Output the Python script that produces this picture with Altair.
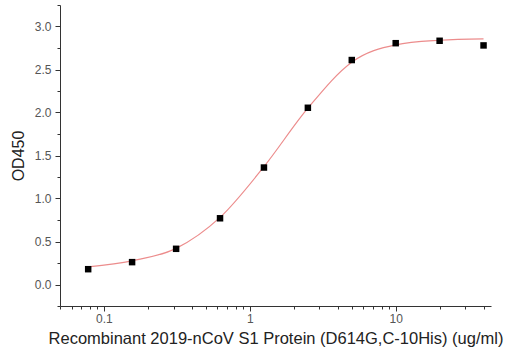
import altair as alt
import pandas as pd

# Measured points
conc = [0.078, 0.156, 0.3125, 0.625, 1.25, 2.5, 5, 10, 20, 40]
od = [0.178, 0.26, 0.415, 0.77, 1.36, 2.055, 2.61, 2.806, 2.834, 2.78]

# Fitted curve
curve_x = [0.078, 0.156, 0.3125, 0.625, 1.25, 2.5, 5, 10, 20, 40]
curve_y = [0.205, 0.275, 0.42, 0.78, 1.37, 2.05, 2.585, 2.787, 2.84, 2.857]

x_major = [0.1, 1, 10]
x_minor = [0.05, 0.06, 0.07, 0.08, 0.09, 0.2, 0.3, 0.4, 0.5, 0.6, 0.7, 0.8, 0.9,
           2, 3, 4, 5, 6, 7, 8, 9, 20, 30, 40]
y_major = [0.0, 0.5, 1.0, 1.5, 2.0, 2.5, 3.0]
y_minor = [-0.25, 0.25, 0.75, 1.25, 1.75, 2.25, 2.75, 3.25]

x_title = "Recombinant 2019-nCoV S1 Protein (D614G,C-10His) (ug/ml)"
y_title = "OD450"

pts = pd.DataFrame({"c": conc, "od": od})
crv = pd.DataFrame({"c": curve_x, "od": curve_y})

FONT = "Liberation Sans"
xscale = alt.Scale(type="log", domain=[0.05, 45], nice=False)
yscale = alt.Scale(domain=[-0.25, 3.25], nice=False, zero=False)

xaxis = alt.Axis(values=x_major, format="~g", title=x_title, grid=False,
                 domainColor="#333", tickColor="#333", tickSize=5,
                 labelColor="#555", labelFont=FONT, labelFontSize=12,
                 labelPadding=2, titleFont=FONT, titleFontSize=16.5,
                 titleFontWeight="normal", titleColor="#222", titlePadding=6,
                 orient="bottom")
yaxis = alt.Axis(values=y_major, format=".1f", title=y_title, grid=False,
                 domainColor="#333", tickColor="#333", tickSize=5,
                 labelColor="#555", labelFont=FONT, labelFontSize=12,
                 labelPadding=4, titleFont=FONT, titleFontSize=16,
                 titleFontWeight="normal", titleColor="#222", titlePadding=8,
                 orient="left")

line = alt.Chart(crv).mark_line(color="#ec8c8c", strokeWidth=1.2,
                                interpolate="monotone").encode(
    x=alt.X("c:Q", scale=xscale, axis=xaxis),
    y=alt.Y("od:Q", scale=yscale, axis=yaxis),
)

minor = alt.Chart(crv).mark_line(opacity=0).encode(
    x=alt.X("c:Q", scale=xscale,
            axis=alt.Axis(values=x_minor, labels=False, title=None, grid=False,
                          domain=False, tickColor="#333", tickSize=3,
                          orient="bottom")),
    y=alt.Y("od:Q", scale=yscale,
            axis=alt.Axis(values=y_minor, labels=False, title=None, grid=False,
                          domain=False, tickColor="#333", tickSize=3,
                          orient="left")),
)

points = alt.Chart(pts).mark_square(color="black", size=42, opacity=1).encode(
    x=alt.X("c:Q", scale=xscale, axis=None),
    y=alt.Y("od:Q", scale=yscale, axis=None),
)

chart = alt.layer(line, minor, points).resolve_axis(
    x="independent", y="independent"
).properties(
    width=431, height=301,
    padding={"left": 60, "top": 5, "right": 21, "bottom": 52},
    autosize="none",
    background="white",
).configure_view(stroke=None)

chart.save("out.html", embed_options={"renderer": "svg", "actions": False})
